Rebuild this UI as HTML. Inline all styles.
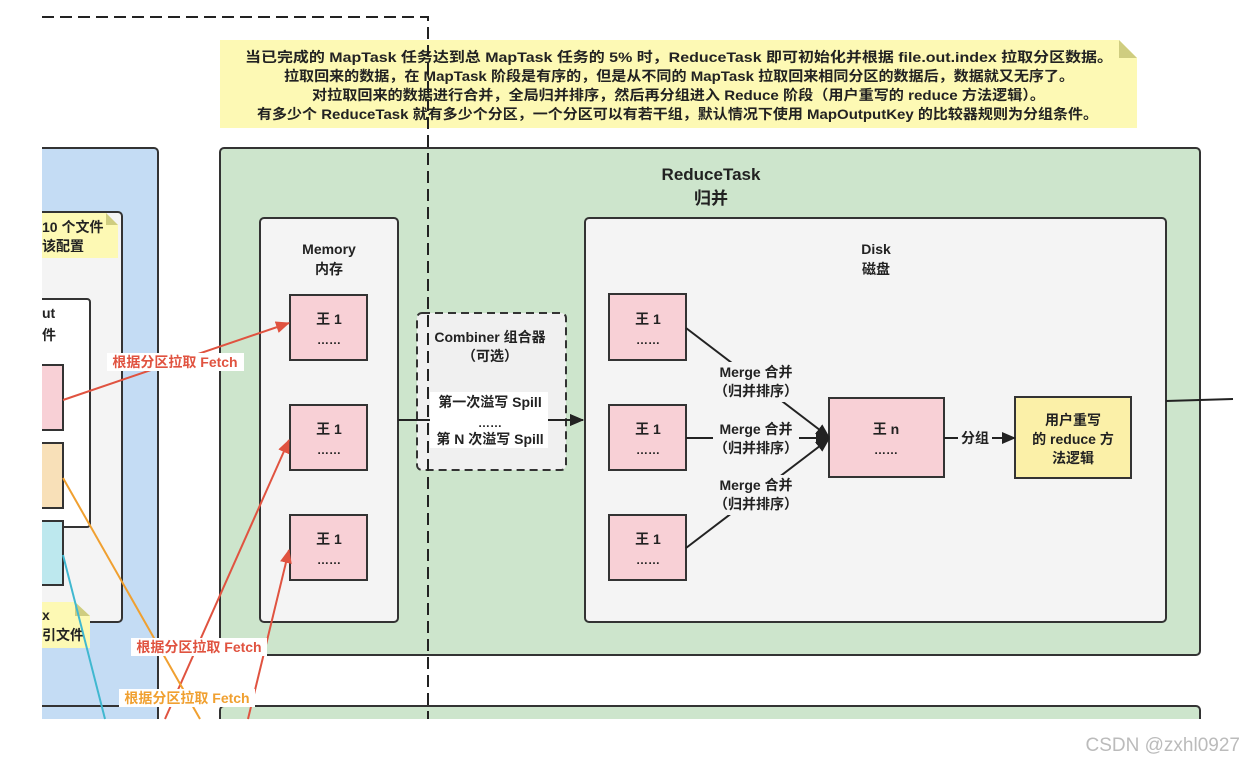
<!DOCTYPE html>
<html><head><meta charset="utf-8"><style>
html,body{margin:0;padding:0;background:#fff;width:1244px;height:763px;overflow:hidden}
svg{display:block}
text{font-family:"Liberation Sans","Noto Sans CJK SC",sans-serif;font-weight:bold;fill:#222}
</style></head><body>
<svg width="1244" height="763" viewBox="0 0 1244 763" xmlns="http://www.w3.org/2000/svg">
<defs>
<marker id="ab" markerWidth="10" markerHeight="10" refX="9" refY="5" orient="auto" markerUnits="userSpaceOnUse"><path d="M0,0 L10,5 L0,10 z" fill="#222"/></marker>
<marker id="ar" markerWidth="14" markerHeight="12" refX="13" refY="6" orient="auto" markerUnits="userSpaceOnUse"><path d="M0,0 L14,6 L0,12 z" fill="#e05340"/></marker>
<marker id="abig" markerWidth="14" markerHeight="12" refX="13" refY="6" orient="auto" markerUnits="userSpaceOnUse"><path d="M0,0 L14,6 L0,12 z" fill="#222"/></marker>
</defs>
<!-- left blue panel -->
<rect x="30" y="148" width="128" height="558" rx="4" fill="#c4dcf4" stroke="#333" stroke-width="2"/>
<rect x="30" y="212" width="92" height="410" rx="4" fill="#f4f4f4" stroke="#333" stroke-width="2"/>
<polygon points="30,213 106,213 118,225 118,258 30,258" fill="#fdf9b4"/>
<polygon points="106,213 118,225 106,225" fill="#cfcd80"/>
<text x="42" y="232" font-size="14">10 个文件</text>
<text x="42" y="251" font-size="14">该配置</text>
<rect x="30" y="299" width="60" height="228" rx="3" fill="#fff" stroke="#333" stroke-width="2"/>
<text x="42" y="318" font-size="14">ut</text>
<text x="42" y="340" font-size="14">件</text>
<rect x="30" y="365" width="33" height="65" fill="#f8d0d6" stroke="#333" stroke-width="2"/>
<rect x="30" y="443" width="33" height="65" fill="#f8e0b8" stroke="#333" stroke-width="2"/>
<rect x="30" y="521" width="33" height="64" fill="#bde8ee" stroke="#333" stroke-width="2"/>
<polygon points="30,602 75,602 90,616 90,648 30,648" fill="#fdf9b4"/>
<polygon points="75,602 90,616 75,616" fill="#cfcd80"/>
<text x="42" y="620" font-size="14">x</text>
<text x="42" y="640" font-size="14">引文件</text>
<rect x="30" y="706" width="128" height="20" fill="#c4dcf4" stroke="#333" stroke-width="2"/>
<rect x="0" y="0" width="42" height="763" fill="#fff"/>
<!-- main green -->
<rect x="220" y="148" width="980" height="507" rx="4" fill="#cde5cc" stroke="#333" stroke-width="2"/>
<rect x="220" y="706" width="980" height="20" rx="4" fill="#cde5cc" stroke="#333" stroke-width="2"/>
<rect x="0" y="719" width="1244" height="44" fill="#fff"/>
<text x="711" y="180" font-size="17" text-anchor="middle">ReduceTask</text>
<text x="711" y="204" font-size="17" text-anchor="middle">归并</text>
<!-- memory -->
<rect x="260" y="218" width="138" height="404" rx="4" fill="#f4f4f4" stroke="#333" stroke-width="2"/>
<text x="329" y="254" font-size="14" text-anchor="middle">Memory</text>
<text x="329" y="274" font-size="14" text-anchor="middle">内存</text>
<g font-size="14">
<rect x="290" y="295" width="77" height="65" fill="#f8d0d6" stroke="#333" stroke-width="2"/>
<text x="329" y="324" font-size="14" text-anchor="middle">王 1</text><text x="329" y="344" font-size="12" text-anchor="middle">……</text>
<rect x="290" y="405" width="77" height="65" fill="#f8d0d6" stroke="#333" stroke-width="2"/>
<text x="329" y="434" font-size="14" text-anchor="middle">王 1</text><text x="329" y="454" font-size="12" text-anchor="middle">……</text>
<rect x="290" y="515" width="77" height="65" fill="#f8d0d6" stroke="#333" stroke-width="2"/>
<text x="329" y="544" font-size="14" text-anchor="middle">王 1</text><text x="329" y="564" font-size="12" text-anchor="middle">……</text>
</g>
<!-- disk -->
<rect x="585" y="218" width="581" height="404" rx="4" fill="#f4f4f4" stroke="#333" stroke-width="2"/>
<text x="876" y="254" font-size="14" text-anchor="middle">Disk</text>
<text x="876" y="274" font-size="14" text-anchor="middle">磁盘</text>
<rect x="609" y="294" width="77" height="66" fill="#f8d0d6" stroke="#333" stroke-width="2"/>
<text x="648" y="324" font-size="14" text-anchor="middle">王 1</text><text x="648" y="344" font-size="12" text-anchor="middle">……</text>
<rect x="609" y="405" width="77" height="65" fill="#f8d0d6" stroke="#333" stroke-width="2"/>
<text x="648" y="434" font-size="14" text-anchor="middle">王 1</text><text x="648" y="454" font-size="12" text-anchor="middle">……</text>
<rect x="609" y="515" width="77" height="65" fill="#f8d0d6" stroke="#333" stroke-width="2"/>
<text x="648" y="544" font-size="14" text-anchor="middle">王 1</text><text x="648" y="564" font-size="12" text-anchor="middle">……</text>
<rect x="829" y="398" width="115" height="79" fill="#f8d0d6" stroke="#333" stroke-width="2"/>
<text x="886" y="434" font-size="14" text-anchor="middle">王 n</text><text x="886" y="454" font-size="12" text-anchor="middle">……</text>
<rect x="1015" y="397" width="116" height="81" fill="#fbf0a8" stroke="#333" stroke-width="2"/>
<text x="1073" y="425" font-size="14" text-anchor="middle">用户重写</text>
<text x="1073" y="444" font-size="14" text-anchor="middle">的 reduce 方</text>
<text x="1073" y="463" font-size="14" text-anchor="middle">法逻辑</text>
<!-- merge lines -->
<g stroke="#222" stroke-width="2" fill="none">
<line x1="686" y1="328" x2="829" y2="437" marker-end="url(#abig)"/>
<line x1="686" y1="438" x2="829" y2="438" marker-end="url(#abig)"/>
<line x1="686" y1="548" x2="829" y2="439" marker-end="url(#abig)"/>
<line x1="944" y1="438" x2="1015" y2="438" marker-end="url(#abig)"/>
<line x1="1166" y1="401" x2="1233" y2="399"/>
<line x1="398" y1="420" x2="583" y2="420" marker-end="url(#abig)"/>
</g>
<g font-size="14">
<rect x="713" y="362" width="86" height="40" fill="#f4f4f4"/>
<text x="756" y="377" text-anchor="middle">Merge 合并</text><text x="756" y="396" text-anchor="middle">（归并排序）</text>
<rect x="713" y="419" width="86" height="40" fill="#f4f4f4"/>
<text x="756" y="434" text-anchor="middle">Merge 合并</text><text x="756" y="453" text-anchor="middle">（归并排序）</text>
<rect x="713" y="475" width="86" height="40" fill="#f4f4f4"/>
<text x="756" y="490" text-anchor="middle">Merge 合并</text><text x="756" y="509" text-anchor="middle">（归并排序）</text>
<rect x="958" y="429" width="34" height="18" fill="#f4f4f4"/>
<text x="975" y="443" text-anchor="middle">分组</text>
</g>
<!-- combiner -->
<rect x="417" y="313" width="149" height="157" rx="5" fill="#f0f0f0" stroke="#333" stroke-width="2" stroke-dasharray="8,5"/>
<line x1="398" y1="420" x2="583" y2="420" stroke="#222" stroke-width="2" marker-end="url(#abig)"/>
<rect x="430" y="392" width="118" height="56" fill="#fff"/>
<text x="490" y="342" font-size="14" text-anchor="middle">Combiner 组合器</text>
<text x="490" y="361" font-size="14" text-anchor="middle">（可选）</text>
<text x="490" y="407" font-size="14" text-anchor="middle">第一次溢写 Spill</text>
<text x="490" y="427" font-size="12" text-anchor="middle">……</text>
<text x="490" y="444" font-size="14" text-anchor="middle">第 N 次溢写 Spill</text>
<!-- fetch arrows -->
<g stroke-width="2" fill="none">
<line x1="63" y1="400" x2="289" y2="323" stroke="#e05340" marker-end="url(#ar)"/>
<line x1="165" y1="719" x2="289" y2="440" stroke="#e05340" marker-end="url(#ar)"/>
<line x1="248" y1="719" x2="289" y2="550" stroke="#e05340" marker-end="url(#ar)"/>
<line x1="63" y1="478" x2="200" y2="719" stroke="#f0a030"/>
<line x1="63" y1="555" x2="105" y2="719" stroke="#40b8d0"/>
</g>
<g font-size="14">
<rect x="107" y="353" width="137" height="18" fill="#fff"/>
<text x="175" y="367" text-anchor="middle" style="fill:#e05340">根据分区拉取 Fetch</text>
<rect x="131" y="638" width="136" height="18" fill="#fff"/>
<text x="199" y="652" text-anchor="middle" style="fill:#e05340">根据分区拉取 Fetch</text>
<rect x="119" y="689" width="136" height="18" fill="#fff"/>
<text x="187" y="703" text-anchor="middle" style="fill:#f0a030">根据分区拉取 Fetch</text>
</g>
<!-- note -->
<polygon points="220,40 1119,40 1137,58 1137,128 220,128" fill="#fdf9b4"/>
<polygon points="1119,40 1137,58 1119,58" fill="#cfcd80"/>
<g font-size="14">
<text x="245" y="62" textLength="868" lengthAdjust="spacingAndGlyphs">当已完成的 MapTask 任务达到总 MapTask 任务的 5% 时，ReduceTask 即可初始化并根据 file.out.index 拉取分区数据。</text>
<text x="284" y="81" textLength="790" lengthAdjust="spacingAndGlyphs">拉取回来的数据，在 MapTask 阶段是有序的，但是从不同的 MapTask 拉取回来相同分区的数据后，数据就又无序了。</text>
<text x="312" y="100" textLength="733" lengthAdjust="spacingAndGlyphs">对拉取回来的数据进行合并，全局归并排序，然后再分组进入 Reduce 阶段（用户重写的 reduce 方法逻辑）。</text>
<text x="257" y="119" textLength="841" lengthAdjust="spacingAndGlyphs">有多少个 ReduceTask 就有多少个分区，一个分区可以有若干组，默认情况下使用 MapOutputKey 的比较器规则为分组条件。</text>
</g>
<!-- dashed line -->
<polyline points="42,17 428,17 428,719" fill="none" stroke="#222" stroke-width="2" stroke-dasharray="12,6"/>
<text x="1240" y="751" font-size="19" text-anchor="end" style="fill:#bbb;font-weight:normal">CSDN @zxhl0927</text>
</svg>
</body></html>
